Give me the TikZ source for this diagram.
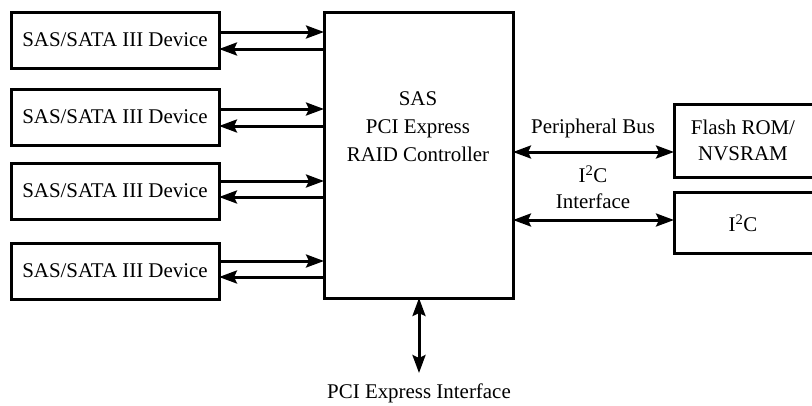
\documentclass[tikz,border=0pt]{standalone}
\usepackage{fontspec}
\setmainfont{Liberation Serif}
\usetikzlibrary{arrows.meta}
\begin{document}
\begin{tikzpicture}[x=1bp,y=-1bp,
  box/.style={draw,line width=3bp},
  lbl/.style={font=\fontsize{21}{25}\selectfont,inner sep=0pt,align=center},
  conn/.style={line width=3bp,-{Stealth[length=18bp,width=13bp,inset=3bp]}},
  bconn/.style={line width=3bp,{Stealth[length=18bp,width=13bp,inset=3bp]}-{Stealth[length=18bp,width=13bp,inset=3bp]}}]
\useasboundingbox (0,0) rectangle (812,405);
\begin{scope}
\clip (0,0) rectangle (812,405);
% device boxes
\foreach \i/\t/\b in {1/12/68,2/89/145,3/163/219,4/243/299}{
  \draw[box] (11,\t) rectangle (219,\b);
  \node[lbl] (d\i) at (115,{(\t+\b)/2}) {SAS/SATA III Device};
  \coordinate (dr\i) at (219,{(\t+\b)/2});
}
% main controller
\draw[box] (324,12) rectangle (513,298);
\node[lbl,align=center] (ctl) at (418,127) {SAS\\[3bp]PCI Express\\[3bp]RAID Controller};
% right boxes
\draw[box] (674,104) rectangle (820,177);
\node[lbl] (flash) at (743,140) {Flash ROM/\\[1bp]NVSRAM};
\draw[box] (674,192) rectangle (820,253);
\node[lbl] (i2c) at (743,223) {I\textsuperscript{2}C};
\end{scope}
% device connectors
\foreach \i/\a/\b in {1/32/49,2/109/126,3/181/197,4/261/277}{
  \coordinate (da\i) at (219,\a); \coordinate (ca\i) at (324,\a);
  \coordinate (db\i) at (219,\b); \coordinate (cb\i) at (324,\b);
  \draw[conn] (da\i) -- (ca\i);
  \draw[conn] (cb\i) -- (db\i);
}
% peripheral bus
\coordinate (pbL) at (513,152); \coordinate (pbR) at (674,152);
\draw[bconn] (pbL) -- (pbR);
\node[lbl] (pbl) at (593,128) {Peripheral Bus};
\coordinate (icL) at (513,220); \coordinate (icR) at (674,220);
\draw[bconn] (icL) -- (icR);
\node[lbl] (icl) at (593,187) {I\textsuperscript{2}C\\[1bp]Interface};
% PCI express
\coordinate (pT) at (419,298); \coordinate (pB) at (419,373);
\draw[bconn] (pT) -- (pB);
\node[lbl] (pcil) at (419,393) {PCI Express Interface};
\end{tikzpicture}
\end{document}
